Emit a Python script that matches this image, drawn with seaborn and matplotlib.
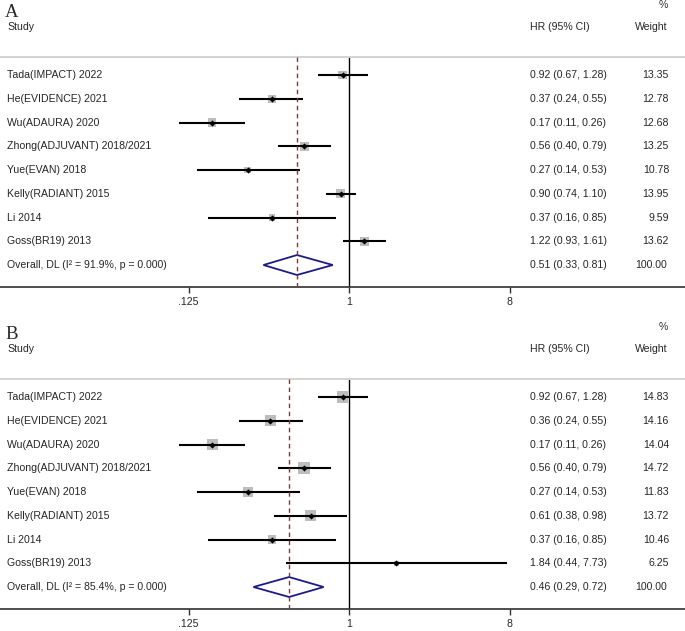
import numpy as np
import pandas as pd
import matplotlib
matplotlib.use("Agg")
import matplotlib.pyplot as plt
import matplotlib.transforms as mtransforms
from matplotlib.ticker import NullLocator, FixedLocator, FixedFormatter
import seaborn as sns

# ---------------- data ----------------
studies = ["Tada(IMPACT) 2022", "He(EVIDENCE) 2021", "Wu(ADAURA) 2020",
           "Zhong(ADJUVANT) 2018/2021", "Yue(EVAN) 2018", "Kelly(RADIANT) 2015",
           "Li 2014", "Goss(BR19) 2013"]

hr_a = [0.92, 0.37, 0.17, 0.56, 0.27, 0.90, 0.37, 1.22]
lo_a = [0.67, 0.24, 0.11, 0.40, 0.14, 0.74, 0.16, 0.93]
hi_a = [1.28, 0.55, 0.26, 0.79, 0.53, 1.10, 0.85, 1.61]
w_a = [13.35, 12.78, 12.68, 13.25, 10.78, 13.95, 9.59, 13.62]
overall_a = [0.51, 0.33, 0.81]
i2_a = 91.9
p_a = 0.000

hr_b = [0.92, 0.36, 0.17, 0.56, 0.27, 0.61, 0.37, 1.84]
lo_b = [0.67, 0.24, 0.11, 0.40, 0.14, 0.38, 0.16, 0.44]
hi_b = [1.28, 0.55, 0.26, 0.79, 0.53, 0.98, 0.85, 7.73]
w_b = [14.83, 14.16, 14.04, 14.72, 11.83, 13.72, 10.46, 6.25]
overall_b = [0.46, 0.29, 0.72]
i2_b = 85.4
p_b = 0.000

total_weight = "100.00"
xticks = [0.125, 1, 8]
xtick_labels = [".125", "1", "8"]
panel_labels = ["A", "B"]

# ---------------- style ----------------
sns.set_style("white")
plt.rcParams["font.family"] = ["Liberation Sans", "DejaVu Sans"]

W, H = 685, 631
fig = plt.figure(figsize=(W / 100, H / 100), dpi=100)

FS = 7.6
px_per_unit = 53.5
x_one = 349.0
xmin = 2 ** (-x_one / px_per_unit)
xmax = 2 ** ((W - x_one) / px_per_unit)

row_top = -0.758
row_bot = 8.926


def draw_panel(top_px, label, hr, lo, hi, w, overall, i2, p, box_side_max_pt):
    axis_px = top_px + 230
    ax = fig.add_axes([0, 1 - axis_px / H, 1, (axis_px - top_px) / H])
    n = len(studies)
    rows = np.arange(n)
    df = pd.DataFrame({"study": studies, "hr": hr, "lo": lo, "hi": hi,
                       "w": w, "row": rows})
    df["w2"] = df["w"] ** 2
    ax.set_xscale("log", base=2)
    ax.set_xlim(xmin, xmax)
    ax.set_ylim(row_bot, row_top)

    # reference lines
    ax.axvline(1, color="black", lw=1.0, zorder=2)
    ax.axvline(overall[0], color="#a52a2a", lw=1.0, ls=(0, (3.2, 2.6)), zorder=4)

    # CI lines
    ax.hlines(df["row"], df["lo"], df["hi"], color="black", lw=1.5, zorder=3)
    # weight boxes
    sns.scatterplot(data=df, x="hr", y="row", size="w2",
                    sizes=(0, box_side_max_pt ** 2),
                    size_norm=(0, max(w) ** 2), marker="s",
                    color="#bdbdbd", linewidth=0, legend=False, ax=ax, zorder=2.5)
    # point estimates
    sns.scatterplot(data=df, x="hr", y="row", marker="D", s=10, color="black",
                    linewidth=0, legend=False, ax=ax, zorder=5)

    # overall diamond
    r = n
    est, olo, ohi = overall
    ax.fill([olo, est, ohi, est], [r, r - 0.42, r, r + 0.42],
            facecolor="white", edgecolor="#1c1c84", lw=1.3, zorder=3)

    # axes styling
    for s in ["left", "right"]:
        ax.spines[s].set_visible(False)
    ax.spines["top"].set_color("#d3d3d3")
    ax.spines["top"].set_linewidth(1.4)
    ax.spines["bottom"].set_color("#303030")
    ax.spines["bottom"].set_linewidth(1.2)
    ax.set_yticks([])
    ax.xaxis.set_major_locator(FixedLocator(xticks))
    ax.xaxis.set_major_formatter(FixedFormatter(xtick_labels))
    ax.xaxis.set_minor_locator(NullLocator())
    ax.tick_params(axis="x", direction="out", length=4, width=1.0,
                   color="#303030", labelsize=FS, pad=3, bottom=True)
    ax.set_xlabel("")
    ax.set_ylabel("")

    tr = mtransforms.blended_transform_factory(ax.transAxes, ax.transData)
    xs = 7 / W
    xhr = 530 / W
    xw = 669 / W
    for i, row in df.iterrows():
        ax.text(xs, row["row"], row["study"], transform=tr, fontsize=FS,
                va="center", ha="left", clip_on=False)
        ax.text(xhr, row["row"], f"{row['hr']:.2f} ({row['lo']:.2f}, {row['hi']:.2f})",
                transform=tr, fontsize=FS, va="center", ha="left", clip_on=False)
        ax.text(xw, row["row"], f"{row['w']:.2f}", transform=tr, fontsize=FS,
                va="center", ha="right", clip_on=False)
    ax.text(xs, r, f"Overall, DL (I\u00b2 = {i2:.1f}%, p = {p:.3f})", transform=tr,
            fontsize=FS, va="center", ha="left", clip_on=False)
    ax.text(xhr, r, f"{est:.2f} ({olo:.2f}, {ohi:.2f})", transform=tr,
            fontsize=FS, va="center", ha="left", clip_on=False)
    ax.text(xw - 2 / W, r, total_weight, transform=tr, fontsize=FS,
            va="center", ha="right", clip_on=False)

    # headers
    ax.text(xs, -2.02, "Study", transform=tr, fontsize=FS, va="center",
            ha="left", clip_on=False)
    ax.text(xhr, -2.02, "HR (95% CI)", transform=tr, fontsize=FS, va="center",
            ha="left", clip_on=False)
    ax.text(xw - 2 / W, -2.02, "Weight", transform=tr, fontsize=FS, va="center",
            ha="right", clip_on=False)
    ax.text(xw - 1 / W, -2.95, "%", transform=tr, fontsize=FS, va="center",
            ha="right", clip_on=False, color="#333333")
    ax.text(5 / W, -2.62, label, transform=tr, fontsize=13.5, va="center",
            ha="left", clip_on=False, family=["Liberation Serif", "DejaVu Serif"])
    return ax


draw_panel(57, panel_labels[0], hr_a, lo_a, hi_a, w_a, overall_a, i2_a, p_a, 6.5)
draw_panel(379, panel_labels[1], hr_b, lo_b, hi_b, w_b, overall_b, i2_b, p_b, 8.5)

fig.savefig("out.png", dpi=100)
